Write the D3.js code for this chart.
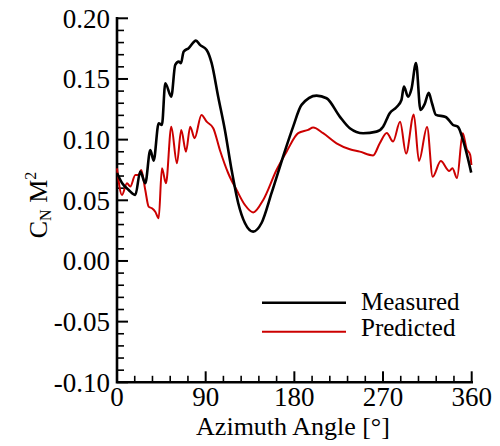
<!DOCTYPE html>
<html><head><meta charset="utf-8">
<script src="https://cdn.jsdelivr.net/npm/d3@7"></script>
<style>html,body{margin:0;padding:0;background:#fff;}svg{display:block;}
text{font-family:"Liberation Serif","Times New Roman",Times,"DejaVu Serif","Noto Serif",serif;}</style>
</head><body>
<svg id="chart" width="500" height="446"></svg>
<script>
const measuredAngle = [0,5.1,11.9,18.6,23.6,28.7,33.8,37.2,42.3,45.6,49.0,55.1,59.1,62.6,64.9,67.6,72.7,80.1,84.2,91.0,96.0,102.7,109.5,116.3,123.0,129.8,138.2,146.7,156.9,169.7,178.8,187.3,202.5,212.7,226.1,236.3,249.8,263.4,270.1,276.8,283.6,288.7,291.2,295.4,298.9,303.5,308.0,312.3,316.4,319.7,323.7,333.6,341.0,346.1,351.4,359.5];
const measuredCN = [0.0725,0.0643,0.0585,0.0544,0.0736,0.0641,0.0915,0.0827,0.1135,0.1121,0.1465,0.1354,0.1616,0.1643,0.1630,0.1725,0.1754,0.1816,0.1781,0.1739,0.1632,0.1354,0.1080,0.0750,0.0478,0.0313,0.0242,0.0313,0.0561,0.0888,0.1107,0.1286,0.1363,0.1341,0.1190,0.1094,0.1053,0.1066,0.1107,0.1218,0.1267,0.1327,0.1437,0.1354,0.1418,0.1632,0.1245,0.1294,0.1385,0.1300,0.1204,0.1187,0.1121,0.1105,0.0989,0.0728];
const predictedAngle = [0,5.1,10.1,13.5,18.6,22.0,24.6,28.7,32.1,35.5,39.0,42.3,45.6,49.7,55.1,60.8,65.2,70.0,74.3,78.8,85.7,91.0,97.7,104.4,112.9,121.4,129.8,138.2,148.4,161.9,172.1,183.9,194.0,199.1,209.2,222.8,236.3,246.4,259.9,266.7,273.8,280.2,287.3,293.4,301.2,306.5,314.7,320.4,328.6,337.2,340.4,345.1,350.9,354.9,358.5,359.7];
const predictedCN = [0.0764,0.0544,0.0641,0.0613,0.0709,0.0709,0.0750,0.0585,0.0448,0.0434,0.0404,0.0352,0.0764,0.0641,0.1107,0.0805,0.1080,0.0901,0.1107,0.1012,0.1204,0.1148,0.1094,0.0915,0.0723,0.0585,0.0462,0.0400,0.0503,0.0750,0.0901,0.1053,0.1080,0.1099,0.1053,0.0970,0.0921,0.0901,0.0870,0.0970,0.1055,0.0984,0.1148,0.0885,0.1208,0.0824,0.1105,0.0695,0.0824,0.0742,0.0764,0.0684,0.1053,0.0923,0.0874,0.0791];
const xTicks = [0,90,180,270,360];
const yTicks = [-0.10,-0.05,0.00,0.05,0.10,0.15,0.20];
const seriesNames = ["Measured","Predicted"];
const seriesColors = ["#000000","#cc0000"];

const svg = d3.select("#chart");
const x = d3.scaleLinear().domain([0,360]).range([117,471.7]);
const y = d3.scaleLinear().domain([-0.10,0.20]).range([382.3,18.3]);

const xMinor = d3.range(0,361,18).filter(v => v % 90 !== 0);
const yMinor = d3.range(-10,21,1).map(v=>v/100).filter(v => Math.round(v*100) % 5 !== 0);

const g = svg.append("g");
g.selectAll(".xmaj").data(xTicks).enter().append("line")
  .attr("x1",d=>x(d)).attr("x2",d=>x(d)).attr("y1",y(-0.10)).attr("y2",y(-0.10)-11)
  .attr("stroke","#000").attr("stroke-width",2);
g.selectAll(".xmin").data(xMinor).enter().append("line")
  .attr("x1",d=>x(d)).attr("x2",d=>x(d)).attr("y1",y(-0.10)).attr("y2",y(-0.10)-6.5)
  .attr("stroke","#000").attr("stroke-width",1.6);
g.selectAll(".ymaj").data(yTicks).enter().append("line")
  .attr("x1",x(0)).attr("x2",x(0)+11).attr("y1",d=>y(d)).attr("y2",d=>y(d))
  .attr("stroke","#000").attr("stroke-width",2);
g.selectAll(".ymin").data(yMinor).enter().append("line")
  .attr("x1",x(0)).attr("x2",x(0)+7).attr("y1",d=>y(d)).attr("y2",d=>y(d))
  .attr("stroke","#000").attr("stroke-width",1.6);

g.append("path").attr("d",`M${x(0)},${y(0.20)}V${y(-0.10)}H${x(360)}`)
  .attr("fill","none").attr("stroke","#000").attr("stroke-width",2.6).attr("stroke-linecap","square");

g.selectAll(".xl").data(xTicks).enter().append("text")
  .attr("x",d=>x(d)).attr("y",406).attr("text-anchor","middle")
  .attr("font-size",27).text(d=>d);
g.selectAll(".yl").data(yTicks).enter().append("text")
  .attr("x",110).attr("y",d=>y(d)+9.5).attr("text-anchor","end")
  .attr("font-size",27).text(d=>d.toFixed(2));

svg.append("text").attr("x",293).attr("y",435).attr("text-anchor","middle")
  .attr("font-size",26).text("Azimuth Angle [°]");
const yt = svg.append("text").attr("transform","translate(47,205) rotate(-90)")
  .attr("text-anchor","middle").attr("font-size",26);
yt.append("tspan").text("C");
yt.append("tspan").attr("font-size",16).attr("dy",4).text("N");
yt.append("tspan").attr("dy",-4).text(" M");
yt.append("tspan").attr("font-size",16).attr("dy",-11).text("2");

const line = d3.line().x(d=>x(d[0])).y(d=>y(d[1])).curve(d3.curveMonotoneX);
const measured = measuredAngle.map((a,i)=>[a,measuredCN[i]]);
const predicted = predictedAngle.map((a,i)=>[a,predictedCN[i]]);
svg.append("path").datum(predicted).attr("d",line).attr("fill","none")
  .attr("stroke",seriesColors[1]).attr("stroke-width",2).attr("stroke-linejoin","round");
svg.append("path").datum(measured).attr("d",line).attr("fill","none")
  .attr("stroke",seriesColors[0]).attr("stroke-width",2.6).attr("stroke-linejoin","round");

const legY = [302.7, 331.7];
const legTextY = [310, 336];
seriesNames.forEach((n,i)=>{
  svg.append("line").attr("x1",262).attr("x2",346).attr("y1",legY[i]).attr("y2",legY[i])
    .attr("stroke",seriesColors[i]).attr("stroke-width",i===0?2.4:2);
  svg.append("text").attr("x",361).attr("y",legTextY[i])
    .attr("font-size",25).text(n);
});
</script>
</body></html>
